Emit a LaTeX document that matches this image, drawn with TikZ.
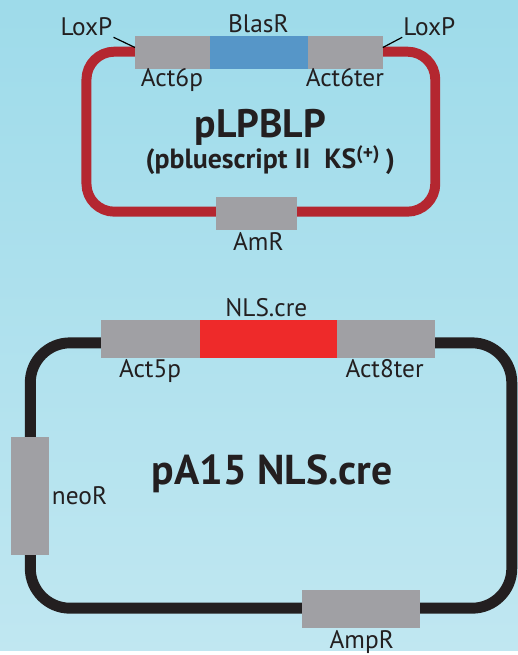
\documentclass[tikz,border=0pt]{standalone}
\usepackage{fontspec}
\setmainfont{PT Sans}
\definecolor{bgtop}{RGB}{158,219,234}
\definecolor{bgbot}{RGB}{192,231,241}
\definecolor{genegrey}{RGB}{160,160,164}
\definecolor{blasblue}{RGB}{86,150,200}
\definecolor{crered}{RGB}{238,42,42}
\definecolor{loopred}{RGB}{180,39,48}
\definecolor{loopblack}{RGB}{35,31,32}
\tikzset{
  gene/.style={fill=genegrey, inner sep=0pt},
  lbl/.style={anchor=base, inner sep=1pt, text=loopblack, font=\fontsize{25.5}{25.5}\selectfont},
  title/.style={anchor=base, inner sep=0pt, text=loopblack, font=\bfseries\fontsize{40}{40}\selectfont},
}
\begin{document}
\begin{tikzpicture}[x=1pt,y=-1pt]
\shade[top color=bgtop, bottom color=bgbot] (0,0) rectangle (521,655);
% pLPBLP
\draw[loopred, line width=10pt, rounded corners=28pt] (87,52) rectangle (438,213);
\node[gene, minimum width=75pt, minimum height=33pt] (act6p) at (173.5,52.5) {};
\node[gene, fill=blasblue, minimum width=99pt, minimum height=33pt] (blasr) at (260.5,52.5) {};
\node[gene, minimum width=75pt, minimum height=33pt] (act6ter) at (347.5,52.5) {};
\node[gene, minimum width=82pt, minimum height=33pt] (amr) at (258,214.5) {};
\node[lbl] (loxl) at (87,36) {LoxP};
\node[lbl] (loxr) at (432,36) {LoxP};
\node[lbl] (blasrlbl) at (260,33) {BlasR};
\node[lbl] (act6plbl) at (173,87.5) {Act6p};
\node[lbl] (act6terlbl) at (347,87.5) {Act6ter};
\node[lbl] (amrlbl) at (260,252) {AmR};
\node[title] (lpblp) at (262,138) {pLPBLP};
\node[title, font=\bfseries\fontsize{28}{28}\selectfont] (pbs) at (272,170)
  {(pbluescript II\hspace{14pt}KS\textsuperscript{(+)}\hspace{6pt})};
\draw[line width=1.2pt] (loxl.south east) -- ([yshift=-12pt]act6p.north west);
\draw[line width=1.2pt] ([yshift=-12pt]act6ter.north east) -- (loxr.south west);
% pA15 NLS.cre
\draw[loopblack, line width=11pt, rounded corners=40pt] (30.5,345) rectangle (515,612);
\node[gene, minimum width=99pt, minimum height=38pt] (act5p) at (151.5,341) {};
\node[gene, fill=crered, minimum width=138pt, minimum height=38pt] (nlscre) at (270,341) {};
\node[gene, minimum width=99pt, minimum height=38pt] (act8ter) at (388.5,341) {};
\node[gene, minimum width=38pt, minimum height=118pt] (neor) at (30,499) {};
\node[gene, minimum width=119pt, minimum height=38pt] (ampr) at (363.5,613) {};
\node[lbl] (nlscrelbl) at (268,318) {NLS.cre};
\node[lbl] (act5plbl) at (151,380) {Act5p};
\node[lbl] (act8terlbl) at (387,380) {Act8ter};
\node[lbl] (neorlbl) at (80,508) {neoR};
\node[lbl] (amprlbl) at (364,653) {AmpR};
\node[title, font=\bfseries\fontsize{42}{42}\selectfont] (pa15) at (274,488) {pA15 NLS.cre};
\end{tikzpicture}
\end{document}
